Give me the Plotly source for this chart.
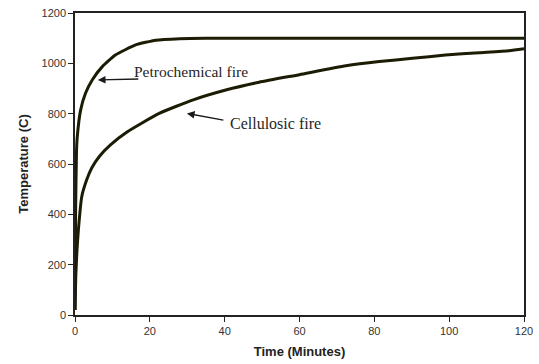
import plotly.graph_objects as go

petro_time = [0, 0.15, 0.4, 0.6, 1.5, 2.8, 4.6, 7.3, 10.8, 16.2, 21.6, 28, 35, 45, 60, 80, 100, 120]
petro_temp = [20, 400, 650, 708, 814, 881, 934, 987, 1033, 1073, 1092, 1098, 1100, 1100, 1100, 1100, 1100, 1100]

cell_time = [0, 0.2, 0.5, 0.9, 1.8, 3.1, 4.5, 6.5, 9.4, 14, 22.5, 31.4, 40.3, 49.2, 60, 72.4, 81.3, 90.2, 99, 108, 116, 120]
cell_temp = [20, 150, 250, 338, 470, 536, 585, 630, 675, 728, 801, 854, 894, 925, 955, 990, 1007, 1020, 1033, 1042, 1050, 1058]

x_ticks = [0, 20, 40, 60, 80, 100, 120]
y_ticks = [0, 200, 400, 600, 800, 1000, 1200]

line_color = "#1c1c05"

fig = go.Figure()
fig.add_trace(go.Scatter(x=petro_time, y=petro_temp, mode="lines",
                         line=dict(color=line_color, width=3, shape="spline", smoothing=0.5),
                         name="Petrochemical fire"))
fig.add_trace(go.Scatter(x=cell_time, y=cell_temp, mode="lines",
                         line=dict(color=line_color, width=3, shape="spline", smoothing=0.5),
                         name="Cellulosic fire"))

serif = dict(family="Liberation Serif, Times New Roman, serif", size=15.5, color="#262626")
serif2 = dict(family="Liberation Serif, Times New Roman, serif", size=16, color="#262626")

fig.add_annotation(x=6.1, y=934, xref="x", yref="y", text="", showarrow=True,
                   ax=42, ay=-1, arrowhead=2, arrowsize=1.1, arrowwidth=1.4, arrowcolor="#1a1a1a")
fig.add_annotation(x=31.1, y=969, xref="x", yref="y", text="Petrochemical fire",
                   showarrow=False, font=serif)
fig.add_annotation(x=29.9, y=801, xref="x", yref="y", text="", showarrow=True,
                   ax=38, ay=7, arrowhead=2, arrowsize=1.1, arrowwidth=1.4, arrowcolor="#1a1a1a")
fig.add_annotation(x=53.7, y=759, xref="x", yref="y", text="Cellulosic fire",
                   showarrow=False, font=serif2)

axis_common = dict(showline=True, linecolor="#222222", linewidth=1.5, mirror=True,
                   ticks="outside", ticklen=5, tickcolor="#222222", showgrid=False,
                   zeroline=False, automargin=False,
                   tickfont=dict(family="Liberation Sans, Arial, sans-serif",
                                 size=11, color="#333333"))

fig.update_xaxes(range=[0, 120], tickvals=x_ticks, ticktext=[str(v) for v in x_ticks],
                 title=dict(text="<b>Time (Minutes)</b>", standoff=11,
                            font=dict(family="Liberation Sans, Arial, sans-serif", size=13, color="#222222")),
                 **axis_common)
fig.update_yaxes(range=[0, 1200], tickvals=y_ticks, ticktext=[str(v) for v in y_ticks],
                 title=dict(text="<b>Temperature (C)</b>", standoff=10,
                            font=dict(family="Liberation Sans, Arial, sans-serif", size=13, color="#222222")),
                 **axis_common)

fig.update_layout(width=539, height=364, margin=dict(l=75, r=15, t=13, b=49),
                  plot_bgcolor="white", paper_bgcolor="white", showlegend=False)

fig.write_html("out.html", config={"displayModeBar": False},
               post_script="document.body.style.margin='0';document.body.style.overflow='hidden';")
